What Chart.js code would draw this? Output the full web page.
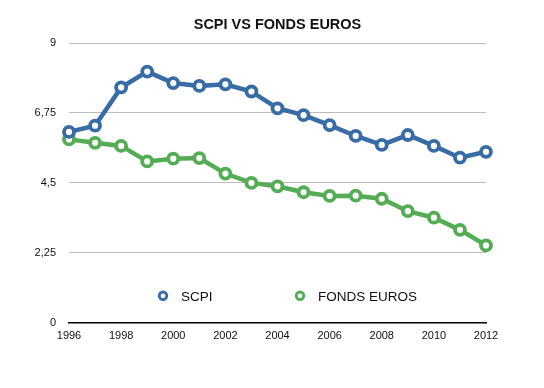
<!DOCTYPE html>
<html>
<head>
<meta charset="utf-8">
<script src="https://cdn.jsdelivr.net/npm/chart.js@4"></script>
<style>
  html, body { margin: 0; padding: 0; background: #fff; }
  #wrap { width: 544px; height: 388px; }
</style>
</head>
<body>
<div id="wrap"><canvas id="lineChart"></canvas></div>
<script>
const years = ["1996", "1997", "1998", "1999", "2000", "2001", "2002", "2003", "2004", "2005", "2006", "2007", "2008", "2009", "2010", "2011", "2012"];
const scpi = [6.14, 6.34, 7.57, 8.08, 7.71, 7.62, 7.67, 7.44, 6.90, 6.68, 6.36, 6.01, 5.72, 6.04, 5.69, 5.31, 5.50];
const fondsEuros = [5.90, 5.79, 5.69, 5.19, 5.28, 5.30, 4.80, 4.50, 4.39, 4.20, 4.08, 4.09, 3.99, 3.59, 3.38, 2.99, 2.49];
const yTicks = [0, 2.25, 4.5, 6.75, 9];

const FONT = "'Liberation Sans', Arial, Helvetica, sans-serif";
const BLUE = "rgb(56, 108, 166)";
const GREEN = "rgb(84, 172, 84)";

// legend drawn inside the plot, just above the zero line
const innerLegend = {
    id: "innerLegend",
    afterDatasetsDraw(chart) {
        const ctx = chart.ctx;
        const area = chart.chartArea;
        const y = area.bottom - 27;
        const items = [
            { x: 163, label: chart.data.datasets[0].label, color: chart.data.datasets[0].borderColor },
            { x: 300, label: chart.data.datasets[1].label, color: chart.data.datasets[1].borderColor }
        ];
        ctx.save();
        ctx.font = "13.5px " + FONT;
        ctx.textBaseline = "middle";
        ctx.textAlign = "left";
        items.forEach(function (it) {
            ctx.beginPath();
            ctx.arc(it.x, y, 3.8, 0, Math.PI * 2);
            ctx.fillStyle = "#fff";
            ctx.fill();
            ctx.lineWidth = 2.8;
            ctx.strokeStyle = it.color;
            ctx.stroke();
            ctx.fillStyle = "#111";
            ctx.fillText(it.label, it.x + 18, y + 1);
        });
        ctx.restore();
    }
};

const CHART = document.getElementById("lineChart");

let lineChart = new Chart(CHART, {
    type: "line",
    data: {
        labels: years,
        datasets: [{
            label: "SCPI",
            data: scpi,
            borderColor: BLUE,
            backgroundColor: "#fff",
            borderWidth: 4.5,
            pointRadius: 5,
            pointBorderWidth: 3.8,
            pointBackgroundColor: "#fff",
            pointBorderColor: BLUE,
            tension: 0
        }, {
            label: "FONDS EUROS",
            data: fondsEuros,
            borderColor: GREEN,
            backgroundColor: "#fff",
            borderWidth: 4.5,
            pointRadius: 5,
            pointBorderWidth: 3.8,
            pointBackgroundColor: "#fff",
            pointBorderColor: GREEN,
            tension: 0
        }]
    },
    options: {
        responsive: true,
        maintainAspectRatio: false,
        animation: false,
        layout: {
            padding: { left: 0, right: 58, top: 0, bottom: 38 }
        },
        plugins: {
            legend: { display: false },
            tooltip: { enabled: false },
            title: {
                display: true,
                fullSize: false, // centred over the plot area only
                text: "SCPI VS FONDS EUROS",
                color: "#111",
                font: { family: FONT, size: 14.5, weight: "bold" },
                padding: { top: 16.3, bottom: 9.3 }
            }
        },
        scales: {
            x: {
                offset: false,
                grid: { display: false, drawTicks: false },
                border: { display: true, color: "#000", width: 1.5 },
                ticks: {
                    autoSkip: false,
                    maxRotation: 0,
                    padding: 7,
                    color: "#111",
                    font: { family: FONT, size: 11 },
                    callback: function (value, index) {
                        return index % 2 === 0 ? years[index] : "";
                    }
                }
            },
            y: {
                min: 0,
                max: 9,
                afterBuildTicks: function (scale) {
                    scale.ticks = yTicks.map(function (v) { return { value: v }; });
                },
                afterFit: function (scale) {
                    scale.width = 69;
                },
                border: { display: false },
                grid: {
                    drawTicks: false,
                    color: function (c) { return c.tick && c.tick.value === 0 ? "#000" : "#bdbdbd"; },
                    lineWidth: 1
                },
                ticks: {
                    padding: 13,
                    color: "#111",
                    font: { family: FONT, size: 11 },
                    callback: function (value) {
                        return String(value).replace(".", ",");
                    }
                }
            }
        }
    },
    plugins: [innerLegend]
});
</script>
</body>
</html>
